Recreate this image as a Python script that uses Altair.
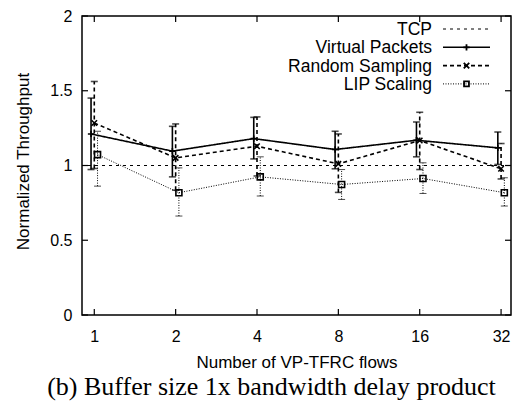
import altair as alt
import pandas as pd

# ---- data ----
flows = [1, 2, 4, 8, 16, 32]
flow_idx = [0, 1, 2, 3, 4, 5]          # log2(flows)

tcp_value = 1.0

vp_mean = [1.211, 1.096, 1.180, 1.107, 1.169, 1.118]
vp_hi   = [1.451, 1.262, 1.322, 1.229, 1.291, 1.224]
vp_lo   = [0.973, 0.924, 1.044, 0.978, 1.058, 1.007]

rs_mean = [1.284, 1.051, 1.129, 1.011, 1.167, 0.978]
rs_hi   = [1.562, 1.278, 1.325, 1.211, 1.356, 1.147]
rs_lo   = [0.980, 0.835, 0.930, 0.820, 0.973, 0.910]

lip_mean = [1.073, 0.818, 0.924, 0.873, 0.913, 0.818]
lip_hi   = [1.229, 0.984, 1.058, 0.973, 1.018, 0.918]
lip_lo   = [0.862, 0.662, 0.796, 0.773, 0.813, 0.729]

series_names = ["TCP", "Virtual Packets", "Random Sampling", "LIP Scaling"]
y_ticks = [0, 0.5, 1, 1.5, 2]
caption = "(b) Buffer size 1x bandwidth delay product"
x_title = "Number of VP-TFRC flows"
y_title = "Normalized Throughput"

# ---- styles ----
W, H = 429, 299
FONT = "Liberation Sans"
PLUS = "M-1,0L1,0M0,-1L0,1"
XMARK = "M-1,-1L1,1M-1,1L1,-1"

styles = {
    "Virtual Packets": dict(dash=[1, 0], width=1.6, shape=PLUS, size=40, off=-0.04,
                            mean=vp_mean, hi=vp_hi, lo=vp_lo),
    "Random Sampling": dict(dash=[4, 3], width=1.6, shape=XMARK, size=30, off=0.0,
                            mean=rs_mean, hi=rs_hi, lo=rs_lo),
    "LIP Scaling": dict(dash=[1, 1.5], width=1.0, shape="square", size=36, off=0.04,
                        mean=lip_mean, hi=lip_hi, lo=lip_lo),
}

xscale = alt.Scale(domain=[-0.151, 5.122], nice=False, zero=False)
yscale = alt.Scale(domain=[0, 2], nice=False)

layers = []

# TCP reference line
tcp_df = pd.DataFrame({"y": [tcp_value]})
layers.append(
    alt.Chart(tcp_df).mark_rule(color="black", strokeWidth=1, strokeDash=[3, 4]).encode(
        y=alt.Y("y:Q", scale=yscale,
                axis=alt.Axis(values=y_ticks, format="~g", title=y_title, ticks=False,
                              domain=False, grid=False, labelPadding=10,
                              labelFontSize=16, labelFont=FONT, labelColor="black",
                              titleFont=FONT, titleFontSize=17, titleFontWeight="normal",
                              titleColor="black", titleAngle=-90, titleX=-59, titleY=145,
                              titleAlign="center", titleBaseline="middle"))
    )
)

for name, st in styles.items():
    df = pd.DataFrame({
        "x": [i + st["off"] for i in flow_idx],
        "y": st["mean"], "hi": st["hi"], "lo": st["lo"],
    })
    base = alt.Chart(df)
    X = alt.X("x:Q", scale=xscale,
              axis=alt.Axis(values=flow_idx, labelExpr="pow(2, round(datum.value))",
                            title=x_title, ticks=False, domain=False, grid=False,
                            labelPadding=13, labelFontSize=16, labelFont=FONT,
                            labelColor="black", titleFont=FONT, titleFontSize=17,
                            titleFontWeight="normal", titleColor="black",
                            titleY=47, titleBaseline="middle"))
    # error bars
    layers.append(base.mark_rule(color="black", strokeWidth=st["width"],
                                 strokeDash=st["dash"]).encode(
        x=X, y=alt.Y("lo:Q", scale=yscale), y2="hi:Q"))
    for cap in ["hi", "lo"]:
        layers.append(base.mark_tick(color="black", size=7, thickness=st["width"],
                                     orient="horizontal").encode(
            x=X, y=alt.Y(f"{cap}:Q", scale=yscale)))
    # line
    layers.append(base.mark_line(color="black", strokeWidth=st["width"],
                                 strokeDash=st["dash"]).encode(
        x=X, y=alt.Y("y:Q", scale=yscale)))
    # markers
    layers.append(base.mark_point(shape=st["shape"], size=st["size"], color="black",
                                  filled=False, strokeWidth=1.6, opacity=1).encode(
        x=X, y=alt.Y("y:Q", scale=yscale)))

# inner tick marks (gnuplot style, mirrored)
xt = pd.DataFrame({"x": flow_idx})
yt = pd.DataFrame({"y": y_ticks})
for y0, y1 in [(H, H - 6), (0, 6)]:
    layers.append(alt.Chart(xt).mark_rule(color="black", strokeWidth=1.2).encode(
        x=alt.X("x:Q", scale=xscale), y=alt.value(y0), y2=alt.value(y1)))
for x0, x1 in [(0, 6), (W, W - 6)]:
    layers.append(alt.Chart(yt).mark_rule(color="black", strokeWidth=1.2).encode(
        y=alt.Y("y:Q", scale=yscale), x=alt.value(x0), x2=alt.value(x1)))

# legend (inside, top-right, labels left of samples)
leg_text_x = 350
leg_x0, leg_x1 = 361, 408
row0, row_step = 13, 18.3
leg_dash = {"TCP": ([3, 4], 1.0, None, 0)}
for name, st in styles.items():
    size = 24 if st["shape"] == "square" else st["size"]
    leg_dash[name] = (st["dash"], st["width"], st["shape"], size)
for i, name in enumerate(series_names):
    dash, wdt, shape, size = leg_dash[name]
    ry = row0 + row_step * i
    ldf = pd.DataFrame({"label": [name]})
    lb = alt.Chart(ldf)
    layers.append(lb.mark_text(align="right", baseline="middle", font=FONT,
                               fontSize=17.5, color="black").encode(
        text="label:N", x=alt.value(leg_text_x), y=alt.value(ry + 1)))
    layers.append(lb.mark_rule(color="black", strokeWidth=wdt, strokeDash=dash).encode(
        x=alt.value(leg_x0), x2=alt.value(leg_x1), y=alt.value(ry)))
    if shape is not None:
        layers.append(lb.mark_point(shape=shape, size=size, color="black", filled=False,
                                    strokeWidth=1.8, opacity=1).encode(
            x=alt.value((leg_x0 + leg_x1) / 2), y=alt.value(ry)))

# caption
cdf = pd.DataFrame({"t": [caption]})
layers.append(alt.Chart(cdf).mark_text(align="center", baseline="alphabetic",
                                       font="Liberation Serif", fontSize=26,
                                       color="black").encode(
    text="t:N", x=alt.value(189.5), y=alt.value(378.5)))

chart = alt.layer(*layers).properties(
    width=W, height=H,
    autosize=alt.AutoSizeParams(type="none"),
    padding={"left": 82, "top": 16, "right": 4, "bottom": 92},
    background="white",
).configure_view(stroke="black", strokeWidth=1.5)

chart.save("out.html", embed_options={"renderer": "svg", "actions": False})
